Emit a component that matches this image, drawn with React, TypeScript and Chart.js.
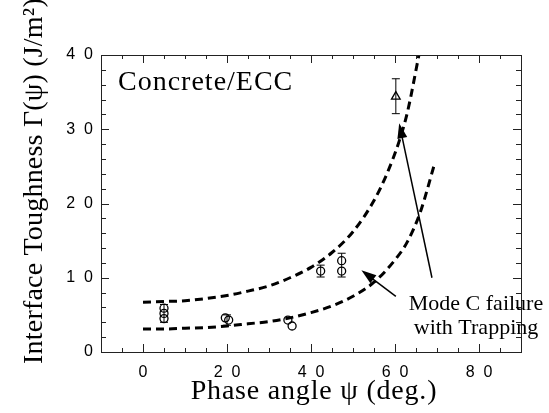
import React, { useEffect, useRef } from "react";
import { Chart, registerables } from "chart.js";
Chart.register(...registerables);

// Dashed model curves
const upperX = [0, 5, 10, 15, 20, 25, 30, 35, 40, 45, 50, 55, 58, 61, 63, 65.7];
const upperY = [6.7, 6.8, 6.9, 7.2, 7.6, 8.2, 8.9, 10.0, 11.4, 13.4, 16.2, 20.4, 23.9, 28.4, 32.4, 40.0];
const lowerX = [0, 5, 10, 15, 20, 25, 30, 35, 40, 45, 50, 55, 60, 63, 66, 69.5];
const lowerY = [3.1, 3.1, 3.2, 3.3, 3.5, 3.8, 4.1, 4.6, 5.3, 6.2, 7.5, 9.4, 12.4, 14.9, 18.8, 25.5];

// Measured points (open circles)
const circleX = [5, 5, 5, 19.6, 20.4, 34.5, 35.5, 42.3, 47.3, 47.3];
const circleY = [5.9, 5.2, 4.5, 4.6, 4.3, 4.3, 3.5, 10.9, 12.3, 10.9];
// Triangle point (Mode C with trapping)
const triX = [60.2];
const triY = [34.4];
// Error bars
const errX = [5, 20, 42.3, 47.3, 60.2];
const errLow = [4.0, 3.6, 10.1, 10.1, 32.1];
const errHigh = [6.4, 5.0, 11.7, 13.3, 36.8];

// Arrows (tail -> tip) in data units
const arrowTailX = [68.8, 60.2];
const arrowTailY = [10.0, 7.5];
const arrowTipX = [61.0, 52.0];
const arrowTipY = [30.8, 11.0];

const xTicks = [0, 20, 40, 60, 80];
const yTicks = [0, 10, 20, 30, 40];
const xMinorStep = 5;
const yMinorStep = 2;

const spaced = (v: number | string) => String(v).split("").join("  ");

const framePlugin = {
  id: "frame",
  afterDatasetsDraw(chart: any) {
    const { ctx, chartArea: a, scales } = chart;
    const xs = scales.x;
    const ys = scales.y;
    ctx.save();
    // frame
    ctx.strokeStyle = "#222";
    ctx.lineWidth = 1;
    ctx.strokeRect(a.left + 0.5, a.top + 0.5, a.right - a.left, a.bottom - a.top);
    // inward ticks
    ctx.beginPath();
    for (let v = xs.min; v <= xs.max + 1e-9; v += xMinorStep) {
      const p = Math.round(xs.getPixelForValue(v)) + 0.5;
      const L = xTicks.includes(v) ? 8 : 4;
      ctx.moveTo(p, a.bottom);
      ctx.lineTo(p, a.bottom - L);
      ctx.moveTo(p, a.top);
      ctx.lineTo(p, a.top + L);
    }
    for (let v = ys.min; v <= ys.max + 1e-9; v += yMinorStep) {
      const p = Math.round(ys.getPixelForValue(v)) + 0.5;
      const L = yTicks.includes(v) ? 8 : 5;
      ctx.moveTo(a.left, p);
      ctx.lineTo(a.left + L, p);
      ctx.moveTo(a.right, p);
      ctx.lineTo(a.right - L, p);
    }
    ctx.stroke();

    // error bars
    ctx.strokeStyle = "#000";
    ctx.lineWidth = 1;
    ctx.beginPath();
    errX.forEach((x, i) => {
      const px = xs.getPixelForValue(x);
      const lo = ys.getPixelForValue(errLow[i]);
      const hi = ys.getPixelForValue(errHigh[i]);
      ctx.moveTo(px, lo);
      ctx.lineTo(px, hi);
      ctx.moveTo(px - 4, lo);
      ctx.lineTo(px + 4, lo);
      ctx.moveTo(px - 4, hi);
      ctx.lineTo(px + 4, hi);
    });
    ctx.stroke();

    // arrows
    arrowTailX.forEach((tx, i) => {
      const x1 = xs.getPixelForValue(tx);
      const y1 = ys.getPixelForValue(arrowTailY[i]);
      const x2 = xs.getPixelForValue(arrowTipX[i]);
      const y2 = ys.getPixelForValue(arrowTipY[i]);
      const ang = Math.atan2(y2 - y1, x2 - x1);
      const hl = 15, hw = 5;
      ctx.beginPath();
      ctx.lineWidth = 1.5;
      ctx.moveTo(x1, y1);
      ctx.lineTo(x2 - Math.cos(ang) * hl * 0.8, y2 - Math.sin(ang) * hl * 0.8);
      ctx.stroke();
      ctx.beginPath();
      ctx.moveTo(x2, y2);
      ctx.lineTo(x2 - Math.cos(ang) * hl - Math.sin(ang) * hw, y2 - Math.sin(ang) * hl + Math.cos(ang) * hw);
      ctx.lineTo(x2 - Math.cos(ang) * hl + Math.sin(ang) * hw, y2 - Math.sin(ang) * hl - Math.cos(ang) * hw);
      ctx.closePath();
      ctx.fillStyle = "#000";
      ctx.fill();
    });

    // texts
    ctx.fillStyle = "#000";
    ctx.textBaseline = "alphabetic";
    ctx.font = '28px "Liberation Serif", "Times New Roman", serif';
    ctx.textAlign = "left";
    (ctx as any).letterSpacing = "1px";
    ctx.fillText("Concrete/ECC", 118, 90);

    (ctx as any).letterSpacing = "0px";
    ctx.font = '22px "Liberation Serif", "Times New Roman", serif';
    ctx.textAlign = "center";
    ctx.fillText("Mode C failure", 476, 310);
    ctx.fillText("with Trapping", 476, 334);

    ctx.font = '28px "Liberation Serif", "Times New Roman", serif';
    (ctx as any).letterSpacing = "0.8px";
    ctx.fillText("Phase angle \u03C8 (deg.)", 314, 399);

    (ctx as any).letterSpacing = "0.2px";
    ctx.translate(42, 181);
    ctx.rotate(-Math.PI / 2);
    ctx.fillText("Interface Toughness \u0393(\u03C8) (J/m\u00B2)", 0, 0);
    ctx.restore();
  },
};

export default function App() {
  const ref = useRef<HTMLCanvasElement | null>(null);
  useEffect(() => {
    if (!ref.current) return;
    const tickFont = { family: '"Liberation Sans", Arial, sans-serif', size: 16 };
    const chart = new Chart(ref.current, {
      type: "scatter",
      data: {
        datasets: [
          {
            type: "line",
            data: upperX.map((x, i) => ({ x, y: upperY[i] })),
            borderColor: "#000",
            borderWidth: 3,
            borderDash: [8, 5],
            pointRadius: 0,
            cubicInterpolationMode: "monotone",
            fill: false,
          } as any,
          {
            type: "line",
            data: lowerX.map((x, i) => ({ x, y: lowerY[i] })),
            borderColor: "#000",
            borderWidth: 3,
            borderDash: [8, 5],
            pointRadius: 0,
            cubicInterpolationMode: "monotone",
            fill: false,
          } as any,
          {
            data: circleX.map((x, i) => ({ x, y: circleY[i] })),
            pointStyle: "circle",
            pointRadius: 4,
            borderColor: "#000",
            backgroundColor: "rgba(0,0,0,0)",
            borderWidth: 1.3,
          },
          {
            data: triX.map((x, i) => ({ x, y: triY[i] })),
            pointStyle: "triangle",
            pointRadius: 5,
            borderColor: "#000",
            backgroundColor: "rgba(255,255,255,1)",
            borderWidth: 1.3,
          },
        ],
      },
      options: {
        animation: false,
        responsive: false,
        maintainAspectRatio: false,
        layout: { padding: { top: 55, right: 28, left: 0, bottom: 0 } },
        plugins: { legend: { display: false }, tooltip: { enabled: false } },
        scales: {
          x: {
            type: "linear",
            min: -10,
            max: 90,
            afterBuildTicks: (s: any) => {
              s.ticks = xTicks.map((v) => ({ value: v }));
            },
            afterFit: (s: any) => {
              s.height = 61;
            },
            ticks: {
              font: tickFont,
              color: "#000",
              padding: 11,
              maxRotation: 0,
              autoSkip: false,
              callback: (v: any) => spaced(v),
            },
            grid: { display: false, drawTicks: false },
            border: { display: false },
          },
          y: {
            type: "linear",
            min: 0,
            max: 40,
            afterBuildTicks: (s: any) => {
              s.ticks = yTicks.map((v) => ({ value: v }));
            },
            afterFit: (s: any) => {
              s.width = 101;
            },
            ticks: {
              font: tickFont,
              color: "#000",
              padding: 8,
              autoSkip: false,
              callback: (v: any) => spaced(v),
            },
            grid: { display: false, drawTicks: false },
            border: { display: false },
          },
        },
      } as any,
      plugins: [framePlugin],
    });
    return () => chart.destroy();
  }, []);
  return (
    <div style={{ position: "absolute", left: 0, top: 0, width: 549, height: 413, background: "#fff" }}>
      <canvas ref={ref} width={549} height={413} style={{ width: 549, height: 413 }} />
    </div>
  );
}
